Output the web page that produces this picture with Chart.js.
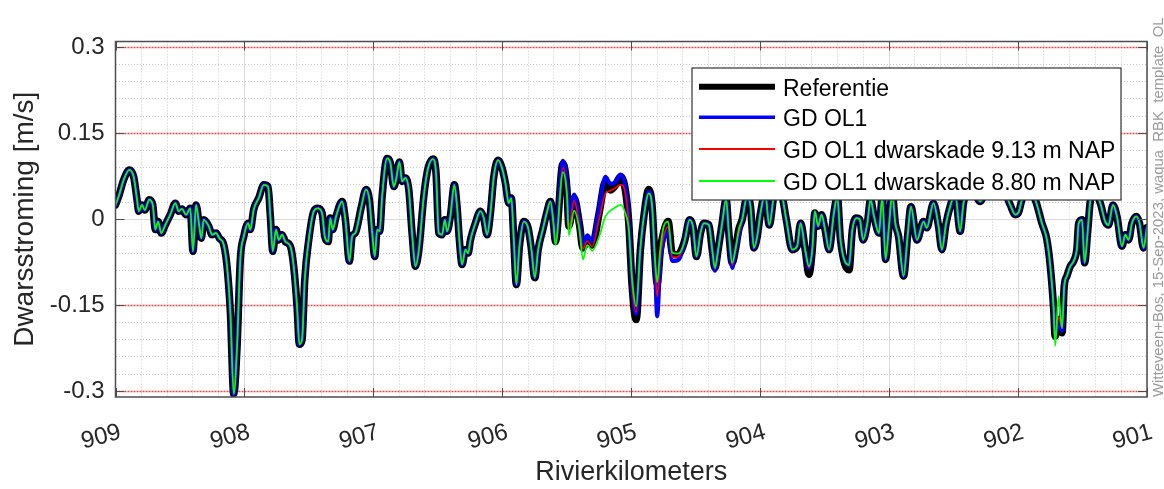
<!DOCTYPE html>
<html><head><meta charset="utf-8">
<script src="https://cdn.jsdelivr.net/npm/chart.js@4.4.0/dist/chart.umd.min.js"></script>
<style>html,body{margin:0;padding:0;background:#fff;} #wrap{width:1164px;height:489px;position:relative;}</style>
</head><body><div id="wrap"><canvas id="c"></canvas></div>
<script>
// Rivierkilometer (x) positions
const km = [
909.000,908.975,908.936,908.893,908.859,908.833,908.820,908.794,908.773,908.738,
908.711,908.691,908.670,908.645,908.614,908.575,908.536,908.510,908.484,908.453,
908.420,908.399,908.375,908.350,908.334,908.316,908.277,908.251,908.220,908.195,
908.161,908.135,908.109,908.083,908.057,908.032,908.005,907.972,907.954,907.928,
907.889,907.850,907.817,907.799,907.780,907.755,907.734,907.708,907.683,907.644,
907.618,907.592,907.574,907.553,907.532,907.501,907.462,907.431,907.398,907.377,
907.351,907.334,907.315,907.289,907.243,907.217,907.186,907.165,907.140,907.093,
907.057,907.031,907.010,906.989,906.971,906.951,906.932,906.894,906.868,906.842,
906.824,906.798,906.777,906.752,906.725,906.700,906.674,906.647,906.609,906.576,
906.537,906.514,906.493,906.467,906.446,906.428,906.403,906.372,906.351,906.333,
906.312,906.286,906.265,906.247,906.209,906.170,906.144,906.118,906.092,906.066,
906.033,906.002,905.976,905.950,905.930,905.911,905.891,905.867,905.833,905.800,
905.774,905.748,905.722,905.686,905.652,905.627,905.601,905.588,905.530,905.498,
905.484,905.443,905.401,905.375,905.341,905.303,905.249,905.200,905.161,905.127,
905.083,905.045,905.019,904.993,904.962,904.929,904.902,904.864,904.838,904.817,
904.799,904.774,904.747,904.714,904.683,904.644,904.618,904.584,904.548,904.522,
904.494,904.463,904.437,904.398,904.372,904.351,904.326,904.295,904.264,904.243,
904.217,904.192,904.166,904.140,904.101,904.075,904.049,904.023,903.998,903.961,
903.930,903.884,903.837,903.798,903.752,903.713,903.687,903.649,903.622,903.596,
903.576,903.550,903.524,903.497,903.466,903.428,903.402,903.377,903.311,903.285,
903.254,903.228,903.202,903.169,903.144,903.117,903.079,903.053,903.028,903.001,
902.976,902.952,902.927,902.888,902.857,902.831,902.784,902.733,902.708,902.656,
902.617,902.591,902.558,902.527,902.488,902.449,902.423,902.371,902.293,902.232,
902.177,902.115,902.061,902.022,901.996,901.970,901.921,901.867,901.815,901.776,
901.750,901.725,901.712,901.686,901.659,901.642,901.621,901.595,901.569,901.543,
901.530,901.504,901.484,901.461,901.440,901.409,901.362,901.324,901.298,901.264,
901.233,901.194,901.168,901.143,901.117,901.083,901.058,901.027,901.001];

const referentie = [
0.025,0.040,0.069,0.086,0.074,0.034,0.014,0.025,0.016,0.034,
0.025,-0.018,-0.004,-0.024,-0.010,0.008,0.028,0.014,0.018,0.008,
0.019,-0.056,0.025,-0.012,-0.033,-0.001,-0.012,-0.027,-0.024,-0.033,
-0.044,-0.082,-0.163,-0.305,-0.221,-0.070,-0.030,-0.007,-0.018,0.017,
0.037,0.060,0.057,0.005,-0.056,-0.018,-0.036,-0.027,-0.039,-0.047,
-0.082,-0.152,-0.218,-0.210,-0.105,-0.036,0.014,0.019,0.011,-0.030,
-0.039,0.002,-0.018,0.005,0.031,-0.001,-0.073,-0.030,-0.024,0.022,
0.052,0.034,-0.021,-0.065,-0.018,-0.021,0.040,0.106,0.098,0.057,
0.069,0.100,0.066,0.072,0.051,-0.024,-0.082,-0.053,0.040,0.089,
0.105,0.080,-0.024,-0.027,-0.001,-0.021,0.005,0.060,0.022,-0.036,
-0.079,-0.053,-0.059,-0.036,-0.007,0.014,0.002,-0.027,0.011,0.074,
0.103,0.089,0.063,0.028,0.037,-0.036,-0.114,-0.047,-0.004,-0.015,
-0.053,-0.102,-0.053,-0.018,0.014,0.031,-0.012,-0.039,0.097,0.050,
-0.012,0.037,-0.010,-0.050,-0.036,-0.045,0.011,0.066,0.051,0.058,
0.074,0.050,-0.007,-0.117,-0.175,-0.053,0.005,0.052,0.022,-0.065,
-0.112,-0.053,-0.021,-0.004,-0.059,-0.062,-0.057,-0.036,-0.001,-0.012,
-0.065,-0.024,-0.007,-0.010,-0.053,-0.085,-0.053,-0.007,0.035,-0.024,
-0.076,-0.053,-0.018,-0.001,0.040,0.022,-0.050,-0.030,0.010,0.045,
-0.010,0.050,0.045,0.000,-0.053,-0.047,-0.007,-0.056,-0.096,-0.053,
0.011,-0.012,0.008,-0.018,-0.053,0.011,0.040,-0.036,-0.088,-0.018,
0.002,0.000,-0.036,-0.007,0.034,0.005,-0.024,0.040,-0.070,-0.012,
0.045,-0.007,-0.030,-0.099,-0.030,0.022,-0.036,-0.004,-0.015,0.028,
-0.012,-0.053,-0.007,0.022,0.045,-0.021,0.028,0.060,0.031,0.060,
0.050,0.050,0.025,0.008,0.012,0.034,0.050,0.034,-0.007,-0.036,
-0.082,-0.152,-0.204,-0.175,-0.198,-0.117,-0.099,-0.082,-0.073,-0.050,
-0.007,-0.001,-0.076,-0.024,0.031,0.050,0.028,-0.004,-0.010,0.025,
0.005,-0.047,-0.027,-0.036,-0.007,0.005,-0.007,-0.050,-0.015];

const gdOL1 = [
0.025,0.040,0.069,0.086,0.074,0.034,0.014,0.025,0.016,0.034,
0.025,-0.018,-0.004,-0.024,-0.010,0.008,0.028,0.014,0.018,0.008,
0.019,-0.056,0.025,-0.012,-0.033,-0.001,-0.012,-0.027,-0.024,-0.033,
-0.044,-0.082,-0.163,-0.305,-0.221,-0.070,-0.030,-0.007,-0.018,0.017,
0.037,0.060,0.057,0.005,-0.056,-0.018,-0.036,-0.027,-0.039,-0.047,
-0.082,-0.152,-0.218,-0.210,-0.105,-0.036,0.014,0.019,0.011,-0.030,
-0.039,0.002,-0.018,0.005,0.031,-0.001,-0.073,-0.030,-0.024,0.022,
0.052,0.034,-0.021,-0.065,-0.018,-0.021,0.040,0.106,0.098,0.057,
0.069,0.100,0.066,0.072,0.051,-0.024,-0.082,-0.053,0.040,0.089,
0.105,0.080,-0.024,-0.027,-0.001,-0.021,0.005,0.060,0.022,-0.036,
-0.079,-0.053,-0.059,-0.036,-0.007,0.014,0.002,-0.027,0.011,0.074,
0.103,0.089,0.063,0.028,0.037,-0.036,-0.114,-0.047,-0.004,-0.015,
-0.053,-0.102,-0.053,-0.018,0.014,0.031,-0.012,-0.039,0.102,0.056,
-0.008,0.043,-0.005,-0.045,-0.028,-0.038,0.020,0.074,0.062,0.064,
0.078,0.055,-0.005,-0.115,-0.165,-0.053,0.005,0.048,0.022,-0.075,
-0.169,-0.075,-0.035,-0.020,-0.073,-0.072,-0.065,-0.036,-0.001,-0.012,
-0.065,-0.024,-0.007,-0.010,-0.053,-0.090,-0.053,-0.007,0.035,-0.024,
-0.085,-0.053,-0.030,-0.001,0.040,0.022,-0.050,-0.030,0.010,0.045,
-0.010,0.050,0.045,0.000,-0.053,-0.047,-0.007,-0.056,-0.085,-0.053,
0.011,-0.012,0.008,-0.018,-0.053,0.011,0.040,-0.036,-0.080,-0.018,
0.002,0.000,-0.036,-0.007,0.034,0.005,-0.024,0.040,-0.070,-0.012,
0.045,-0.007,-0.030,-0.099,-0.030,0.022,-0.036,-0.004,-0.015,0.028,
-0.012,-0.053,-0.007,0.022,0.045,-0.021,0.028,0.060,0.031,0.060,
0.050,0.050,0.025,0.008,0.012,0.034,0.050,0.034,-0.007,-0.036,
-0.082,-0.152,-0.200,-0.175,-0.195,-0.117,-0.099,-0.082,-0.073,-0.050,
-0.007,-0.001,-0.076,-0.024,0.031,0.050,0.028,-0.004,-0.010,0.025,
0.005,-0.047,-0.027,-0.036,-0.007,0.005,-0.007,-0.050,-0.015];

const dwarskade913 = [
0.025,0.040,0.069,0.086,0.074,0.034,0.014,0.025,0.016,0.034,
0.025,-0.018,-0.004,-0.024,-0.010,0.008,0.028,0.014,0.018,0.008,
0.019,-0.056,0.025,-0.012,-0.033,-0.001,-0.012,-0.027,-0.024,-0.033,
-0.044,-0.082,-0.163,-0.305,-0.221,-0.070,-0.030,-0.007,-0.018,0.017,
0.037,0.060,0.057,0.005,-0.056,-0.018,-0.036,-0.027,-0.039,-0.047,
-0.082,-0.152,-0.218,-0.210,-0.105,-0.036,0.014,0.019,0.011,-0.030,
-0.039,0.002,-0.018,0.005,0.031,-0.001,-0.073,-0.030,-0.024,0.022,
0.052,0.034,-0.021,-0.065,-0.018,-0.021,0.040,0.106,0.098,0.057,
0.069,0.100,0.066,0.072,0.051,-0.024,-0.082,-0.053,0.040,0.089,
0.105,0.080,-0.024,-0.027,-0.001,-0.021,0.005,0.060,0.022,-0.036,
-0.079,-0.053,-0.059,-0.036,-0.007,0.014,0.002,-0.027,0.011,0.074,
0.103,0.089,0.063,0.028,0.037,-0.036,-0.114,-0.047,-0.004,-0.015,
-0.053,-0.102,-0.053,-0.018,0.014,0.031,-0.012,-0.039,0.090,0.046,
-0.015,0.033,-0.012,-0.052,-0.038,-0.048,0.000,0.045,0.050,0.054,
0.060,0.045,-0.010,-0.117,-0.162,-0.053,0.005,0.045,0.022,-0.070,
-0.135,-0.065,-0.028,-0.013,-0.066,-0.066,-0.060,-0.036,-0.001,-0.012,
-0.065,-0.024,-0.007,-0.010,-0.053,-0.087,-0.053,-0.007,0.035,-0.024,
-0.080,-0.053,-0.025,-0.001,0.040,0.022,-0.050,-0.030,0.010,0.045,
-0.010,0.050,0.045,0.000,-0.053,-0.047,-0.007,-0.056,-0.085,-0.053,
0.011,-0.012,0.008,-0.018,-0.053,0.011,0.040,-0.036,-0.080,-0.018,
0.002,0.000,-0.036,-0.007,0.034,0.005,-0.024,0.040,-0.070,-0.012,
0.045,-0.007,-0.030,-0.099,-0.030,0.022,-0.036,-0.004,-0.015,0.028,
-0.012,-0.053,-0.007,0.022,0.045,-0.021,0.028,0.060,0.031,0.060,
0.050,0.050,0.025,0.008,0.012,0.034,0.050,0.034,-0.007,-0.036,
-0.082,-0.152,-0.205,-0.170,-0.190,-0.117,-0.099,-0.082,-0.073,-0.050,
-0.007,-0.001,-0.076,-0.024,0.031,0.050,0.028,-0.004,-0.010,0.025,
0.005,-0.047,-0.027,-0.036,-0.007,0.005,-0.007,-0.050,-0.015];

const dwarskade880 = [
0.025,0.040,0.069,0.086,0.074,0.034,0.014,0.025,0.016,0.034,
0.025,-0.018,-0.004,-0.024,-0.010,0.008,0.028,0.014,0.018,0.008,
0.019,-0.056,0.025,-0.012,-0.033,-0.001,-0.012,-0.027,-0.024,-0.033,
-0.044,-0.082,-0.163,-0.305,-0.221,-0.070,-0.030,-0.007,-0.018,0.017,
0.037,0.060,0.057,0.005,-0.056,-0.018,-0.036,-0.027,-0.039,-0.047,
-0.082,-0.152,-0.218,-0.210,-0.105,-0.036,0.014,0.019,0.011,-0.030,
-0.039,0.002,-0.018,0.005,0.031,-0.001,-0.073,-0.030,-0.024,0.022,
0.052,0.034,-0.021,-0.065,-0.018,-0.021,0.040,0.106,0.098,0.057,
0.069,0.100,0.066,0.072,0.051,-0.024,-0.082,-0.053,0.040,0.089,
0.105,0.080,-0.024,-0.027,-0.001,-0.021,0.005,0.060,0.022,-0.036,
-0.079,-0.053,-0.059,-0.036,-0.007,0.014,0.002,-0.027,0.011,0.074,
0.103,0.089,0.063,0.028,0.037,-0.036,-0.114,-0.047,-0.004,-0.015,
-0.053,-0.102,-0.053,-0.018,0.014,0.031,-0.012,-0.045,0.082,0.040,
-0.028,0.015,-0.020,-0.070,-0.045,-0.055,-0.030,0.005,0.015,0.020,
0.025,0.010,-0.018,-0.105,-0.152,-0.050,0.005,0.045,0.022,-0.065,
-0.110,-0.050,-0.012,-0.004,-0.058,-0.060,-0.057,-0.036,-0.001,-0.012,
-0.065,-0.024,-0.007,-0.010,-0.053,-0.085,-0.053,-0.007,0.035,-0.024,
-0.076,-0.053,-0.018,-0.001,0.040,0.022,-0.050,-0.030,0.010,0.045,
-0.010,0.050,0.045,0.000,-0.053,-0.047,-0.007,-0.056,-0.082,-0.053,
0.014,-0.012,0.008,-0.018,-0.053,0.011,0.040,-0.036,-0.080,-0.018,
0.002,0.000,-0.036,-0.007,0.034,0.005,-0.024,0.040,-0.070,-0.012,
0.045,-0.007,-0.030,-0.099,-0.030,0.022,-0.036,-0.004,-0.015,0.028,
-0.012,-0.053,-0.007,0.022,0.045,-0.021,0.028,0.060,0.031,0.060,
0.050,0.050,0.025,0.008,0.012,0.034,0.050,0.034,-0.007,-0.036,
-0.082,-0.152,-0.221,-0.134,-0.190,-0.117,-0.099,-0.082,-0.073,-0.050,
-0.007,-0.001,-0.076,-0.024,0.031,0.050,0.028,-0.004,-0.010,0.025,
0.005,-0.047,-0.027,-0.036,-0.007,0.005,-0.007,-0.050,-0.015];

const seriesNames = ['Referentie', 'GD OL1', 'GD OL1 dwarskade 9.13 m NAP', 'GD OL1 dwarskade 8.80 m NAP'];
const xTickLabels = [909, 908, 907, 906, 905, 904, 903, 902, 901];
const yTickLabels = [0.3, 0.15, 0, -0.15, -0.3];
const limitLines = [0.3, 0.15, -0.15, -0.3];
const xTitle = 'Rivierkilometers';
const yTitle = 'Dwarsstroming [m/s]';
const stampText = 'Witteveen+Bos, 15-Sep-2023, waqua  RBK  template  OL';

const FONT = "'Liberation Sans', Arial, Helvetica, sans-serif";
Chart.defaults.font.family = FONT;

const isInt = v => Math.abs(v - Math.round(v)) < 1e-6;
const key = v => Math.round(v * 100);
const yKeys = yTickLabels.map(key);
const redKeys = limitLines.map(key);

const seriesStyle = [
  {data: referentie, color: '#000000', width: 7.5, legendWidth: 6, order: 3},
  {data: gdOL1, color: '#0000ff', width: 4, legendWidth: 3.5, order: 2},
  {data: dwarskade913, color: '#ff0000', width: 1.6, legendWidth: 2, order: 1},
  {data: dwarskade880, color: '#00ff00', width: 1.8, legendWidth: 2, order: 0}
];

const datasets = seriesStyle.map((s, i) => ({
  label: seriesNames[i],
  data: km.map((k, j) => ({x: k, y: s.data[j]})),
  borderColor: s.color,
  backgroundColor: s.color,
  borderWidth: s.width,
  legendWidth: s.legendWidth,
  order: s.order,
  pointRadius: 0,
  pointHoverRadius: 0,
  fill: false,
  cubicInterpolationMode: 'monotone',
  borderJoinStyle: 'round',
  borderCapStyle: 'round'
}));

const framePlugin = {
  id: 'frame',
  beforeDatasetsDraw(chart) {
    const {ctx, chartArea: a, scales: {y}} = chart;
    ctx.save();
    ctx.strokeStyle = 'rgb(234,70,70)';
    ctx.lineWidth = 1.3;
    ctx.setLineDash([2, 1]);
    limitLines.forEach(v => {
      const py = Math.round(y.getPixelForValue(v)) + 0.5;
      ctx.beginPath(); ctx.moveTo(a.left, py); ctx.lineTo(a.right, py); ctx.stroke();
    });
    ctx.restore();
  },
  afterDatasetsDraw(chart) {
    const {ctx, chartArea: a, scales: {x, y}} = chart;
    ctx.save();
    ctx.strokeStyle = '#4d4d4d';
    ctx.lineWidth = 1;
    ctx.beginPath();
    xTickLabels.forEach(v => {
      const px = Math.round(x.getPixelForValue(v)) + 0.5;
      ctx.moveTo(px, a.bottom); ctx.lineTo(px, a.bottom - 9);
      ctx.moveTo(px, a.top); ctx.lineTo(px, a.top + 9);
    });
    yTickLabels.forEach(v => {
      const py = Math.round(y.getPixelForValue(v)) + 0.5;
      ctx.moveTo(a.left, py); ctx.lineTo(a.left + 9, py);
      ctx.moveTo(a.right, py); ctx.lineTo(a.right - 9, py);
    });
    ctx.stroke();
    ctx.lineWidth = 1.5;
    ctx.strokeRect(a.left, a.top, a.right - a.left, a.bottom - a.top);

    // legend box inside the axes
    const lx = a.left + 576.5, ly = a.top + 26.5, lw = 429, lh = 132;
    ctx.fillStyle = '#ffffff';
    ctx.fillRect(lx, ly, lw, lh);
    ctx.strokeStyle = '#333333';
    ctx.lineWidth = 1.2;
    ctx.strokeRect(lx, ly, lw, lh);
    const rows = [18.7, 49.3, 81, 113];
    ctx.font = '23px ' + FONT;
    ctx.textAlign = 'left';
    ctx.textBaseline = 'middle';
    chart.data.datasets.forEach((ds, i) => {
      const yy = ly + rows[i];
      ctx.strokeStyle = ds.borderColor;
      ctx.lineWidth = ds.legendWidth;
      ctx.lineCap = 'butt';
      ctx.beginPath(); ctx.moveTo(lx + 7, yy); ctx.lineTo(lx + 83, yy); ctx.stroke();
      ctx.fillStyle = '#000000';
      ctx.fillText(ds.label, lx + 91, yy + 2.5);
    });
    ctx.restore();
  },
  afterDraw(chart) {
    const {ctx} = chart;
    ctx.save();
    ctx.translate(1162.5, 397);
    ctx.rotate(-Math.PI / 2);
    ctx.font = '14.9px ' + FONT;
    ctx.fillStyle = '#9a9a9a';
    ctx.textAlign = 'left';
    ctx.textBaseline = 'alphabetic';
    ctx.fillText(stampText, 0, 0);
    ctx.restore();
  }
};

new Chart(document.getElementById('c'), {
  type: 'line',
  data: {datasets},
  options: {
    responsive: true,
    maintainAspectRatio: false,
    animation: false,
    events: [],
    layout: {padding: {left: 0, top: 41.5, right: 17, bottom: 0}},
    plugins: {legend: {display: false}, tooltip: {enabled: false}},
    scales: {
      x: {
        type: 'linear', reverse: true, min: 901, max: 909,
        afterFit: s => { s.height = 92; s.paddingLeft = 0; s.paddingRight = 0; },
        ticks: {
          stepSize: 0.2, autoSkip: false, minRotation: 15, maxRotation: 15,
          padding: 21, labelOffset: 5, color: '#262626', font: {size: 24},
          callback: v => (isInt(v) && xTickLabels.includes(Math.round(v))) ? String(Math.round(v)) : ''
        },
        grid: {
          drawTicks: false, lineWidth: 1,
          color: c => (c.tick && isInt(c.tick.value)) ? '#d9d9d9' : '#c8c8c8'
        },
        border: {display: false, dash: c => (c.tick && !isInt(c.tick.value)) ? [1, 2] : []},
        title: {display: true, text: xTitle, color: '#262626', font: {size: 27}, padding: {top: 0, bottom: 0}}
      },
      y: {
        min: -0.31, max: 0.31,
        afterFit: s => { s.width = 115.5; s.paddingTop = 0; s.paddingBottom = 0; },
        ticks: {
          stepSize: 0.03, includeBounds: false, autoSkip: false, padding: 11,
          color: '#262626', font: {size: 24},
          callback: v => yKeys.includes(key(v)) ? String(key(v) / 100) : ''
        },
        grid: {
          drawTicks: false, lineWidth: 1,
          color: c => {
            if (!c.tick) return '#c8c8c8';
            const k = key(c.tick.value);
            if (redKeys.includes(k)) return 'rgba(0,0,0,0)';
            if (k === 0) return '#d9d9d9';
            return '#c8c8c8';
          }
        },
        border: {display: false, dash: c => {
          if (!c.tick) return [];
          const k = key(c.tick.value);
          if (k === 0) return [];
          return [1, 2];
        }},
        title: {display: true, text: yTitle, color: '#262626', font: {size: 28}, padding: {top: 8, bottom: 0}}
      }
    }
  },
  plugins: [framePlugin]
});
</script>
</body></html>
